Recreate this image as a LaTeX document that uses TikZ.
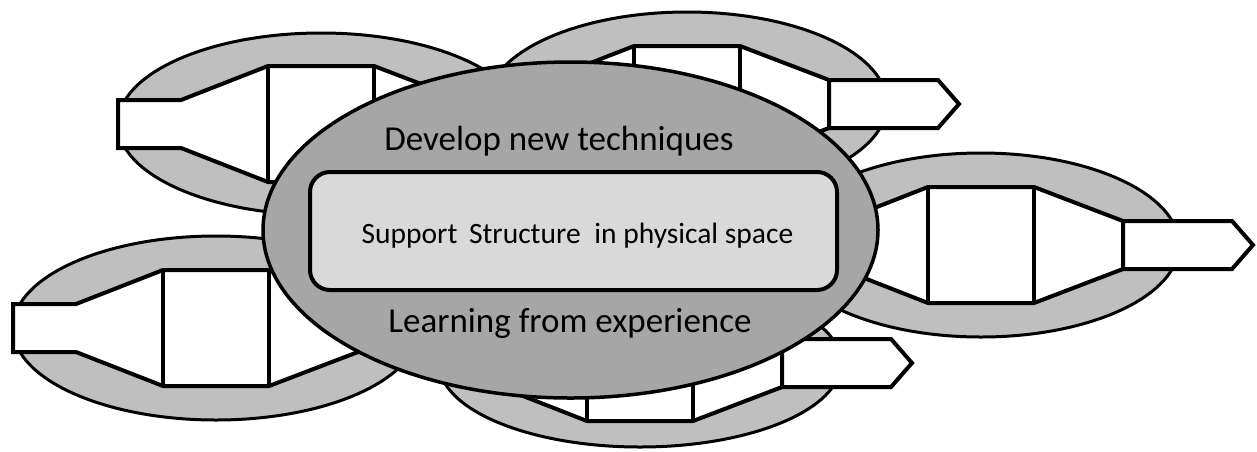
\documentclass[tikz,border=0pt]{standalone}
\usepackage{fontspec}
\newfontfamily\calib{Carlito}
\definecolor{ringgray}{HTML}{BFBFBF}
\definecolor{hubgray}{HTML}{A6A6A6}
\definecolor{boxgray}{HTML}{D9D9D9}
\tikzset{
  ring/.style={draw=black, line width=3pt, fill=ringgray},
  body/.style={draw=black, line width=4pt, fill=white, line join=miter},
  bodyline/.style={draw=black, line width=4pt},
  hub/.style={draw=black, line width=3.5pt, fill=hubgray},
  innerbox/.style={draw=black, line width=4pt, fill=boxgray, rounded corners=20pt},
  bigtext/.style={inner sep=0pt, anchor=base, font=\calib\fontsize{35}{42}\selectfont},
  smalltext/.style={inner sep=0pt, anchor=base, font=\calib\fontsize{29.5}{36}\selectfont}
}
% #1 cx, #2 cy, #3 rx, #4 ry, #5 left end of the tail
\newcommand\drawunit[5]{%
  \begin{scope}[shift={(#1,#2)}]
    \draw[ring] (0,0) ellipse [x radius=#3pt, y radius=#4pt];
    \draw[body] (#5,-24) -- (-140,-24) -- (-53,-58) -- (53,-58) -- (142,-24)
      -- (142,24) -- (53,58) -- (-53,58) -- (-140,24) -- (#5,24) -- cycle;
    \draw[bodyline] (-53,-58) -- (-53,58) (53,-58) -- (53,58);
    \draw[body] (142,-24) -- (251,-24) -- (272,0) -- (251,24) -- (142,24) -- cycle;
  \end{scope}}
\begin{document}
\begin{tikzpicture}[x=1pt, y=-1pt]
  \useasboundingbox (0,0) rectangle (1257,451);
  % satellite units
  \drawunit{321}{124}{203}{91}{-203}
  \drawunit{687}{104}{200}{92}{-203}
  \drawunit{216}{328}{203}{92}{-203}
  \drawunit{981}{245}{198}{92}{-203}
  \drawunit{640}{363}{201}{84}{-140}
  % hub
  \draw[hub] (570.5,230) ellipse [x radius=307.5pt, y radius=168pt];
  \draw[innerbox] (310,172) rectangle (837,290);
  \node[bigtext] (dev) at (559,150) {Develop new techniques};
  \node[smalltext] (sup) at (577.5,243) {Support\hspace{5pt} Structure\hspace{7pt} in physical space};
  \node[bigtext] (learn) at (570,332) {Learning from experience};
\end{tikzpicture}
\end{document}
